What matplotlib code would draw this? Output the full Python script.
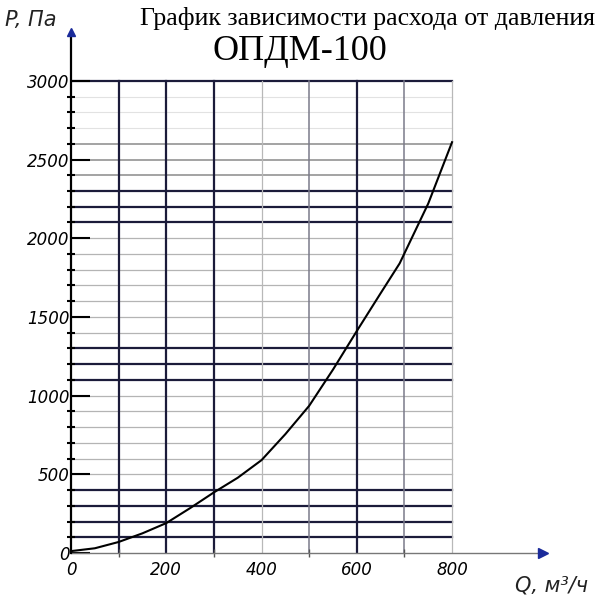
import matplotlib.pyplot as plt

# curve
flow = [0, 50, 100, 150, 200, 250, 300, 350, 400, 450, 500, 550, 600, 650, 690, 750, 800]
pressure = [12, 30, 70, 125, 190, 285, 385, 478, 590, 755, 935, 1165, 1410, 1650, 1840, 2220, 2610]

x_labels = [0, 200, 400, 600, 800]
y_labels = [0, 500, 1000, 1500, 2000, 2500, 3000]

# grid line shades
dark_h = [100, 200, 300, 400, 1100, 1200, 1300, 2100, 2200, 2300, 3000]
mid_h = [2400, 2500, 2600]
faint_h = [2700, 2800, 2900]
dark_v = [100, 200, 300, 600]
mid_v = [500, 700]
light_v = [400, 800]

title = 'График зависимости расхода от давления'
model = 'ОПДМ-100'

fig = plt.figure(figsize=(6.06, 6.10), dpi=100)
ax = fig.add_axes([71 / 606, 57 / 610, 476.3 / 606, 525.7 / 610])
ax.set_xlim(0, 1000)
ax.set_ylim(0, 3340)

navy = '#1b1b3a'
for y in range(100, 3100, 100):
    if y in dark_h:
        c, lw = navy, 1.6
    elif y in mid_h:
        c, lw = '#8a8a8a', 1.1
    elif y in faint_h:
        c, lw = '#e2e2e2', 0.8
    else:
        c, lw = '#b4b4b4', 0.9
    ax.plot([0, 800], [y, y], color=c, lw=lw, zorder=1)

for x in range(100, 900, 100):
    if x in dark_v:
        c, lw = navy, 1.6
    elif x in mid_v:
        c, lw = '#7a7a8a', 1.1
    else:
        c, lw = '#b8b8b8', 0.9
    ax.plot([x, x], [0, 3000], color=c, lw=lw, zorder=1)

ax.plot(flow, pressure, color='black', lw=1.5, zorder=3)

# axes as arrows
for s in ['top', 'right']:
    ax.spines[s].set_visible(False)
ax.spines['left'].set_bounds(0, 3300)
ax.spines['left'].set_linewidth(1.6)
ax.spines['left'].set_zorder(4)
ax.spines['bottom'].set_bounds(0, 980)
ax.spines['bottom'].set_color('#777777')
ax.spines['bottom'].set_linewidth(1.0)
ax.plot([990], [0], marker='>', color='#1a2a9a', ms=7, clip_on=False, zorder=5)
ax.plot([0], [3310], marker='^', color='#1a2a9a', ms=6, clip_on=False, zorder=5)

lab_font = dict(family=['Liberation Sans Narrow', 'DejaVu Sans'], style='italic', size=12)
ax.set_xticks(x_labels)
ax.set_xticklabels([str(v) for v in x_labels], **lab_font)
ax.set_xticks(range(0, 900, 100), minor=True)
ax.set_yticks(y_labels)
ax.set_yticklabels([str(v) for v in y_labels], **lab_font)
ax.set_yticks(range(0, 3100, 100), minor=True)
ax.tick_params(axis='y', which='major', direction='in', length=14, width=1.5, pad=1)
ax.tick_params(axis='y', which='minor', direction='inout', length=6, width=1.5)
ax.tick_params(axis='x', which='major', direction='inout', length=0, pad=6)
ax.tick_params(axis='x', which='minor', direction='inout', length=6, width=1.0, color='#555555')

fig.text(140 / 606, 1 - 18 / 610, title, family='Liberation Serif', size=18.6,
         ha='left', va='center')
fig.text(300 / 606, 1 - 52 / 610, model, family='Liberation Serif', size=26,
         ha='center', va='center')
fig.text(5 / 606, 1 - 20 / 610, 'P, Па', family=['Liberation Sans Narrow', 'DejaVu Sans'],
         style='italic', size=15, ha='left', va='center', color='#222222')
fig.text(515 / 606, 1 - 586 / 610, 'Q, м³/ч', family=['Liberation Sans Narrow', 'DejaVu Sans'],
         style='italic', size=15, ha='left', va='center', color='#222222')

fig.savefig('out.png', dpi=100, facecolor='white')
